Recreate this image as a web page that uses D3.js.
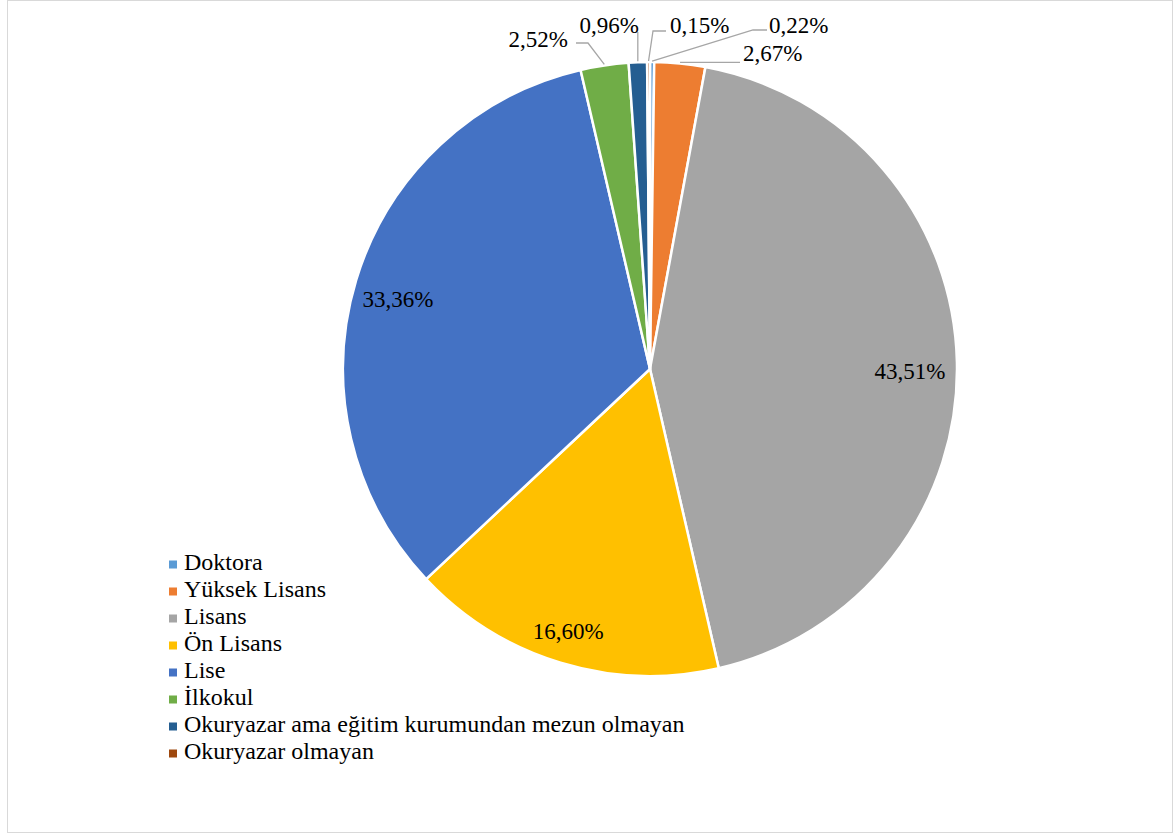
<!DOCTYPE html>
<html>
<head>
<meta charset="utf-8">
<script src="https://cdn.jsdelivr.net/npm/d3@7"></script>
<style>
  html, body { margin: 0; padding: 0; background: #fff; }
  svg { display: block; }
</style>
</head>
<body>
<svg id="chart" width="1174" height="834"></svg>
<script>
// Education level distribution
const categories = [
  "Doktora",
  "Yüksek Lisans",
  "Lisans",
  "Ön Lisans",
  "Lise",
  "İlkokul",
  "Okuryazar ama eğitim kurumundan mezun olmayan",
  "Okuryazar olmayan"
];
const shares = [0.22, 2.67, 43.51, 16.60, 33.36, 2.52, 0.96, 0.15];
const colors = ["#5B9BD5", "#ED7D31", "#A5A5A5", "#FFC000", "#4472C4", "#70AD47", "#255E91", "#9E480E"];

const FONT = '"Liberation Serif"';
const LABEL_SIZE = 23, LEGEND_SIZE = 24;
const cx = 650, cy = 369, R = 307;

const svg = d3.select("#chart");

// chart frame
svg.append("rect")
  .attr("x", 7.5).attr("y", 0.5)
  .attr("width", 1165).attr("height", 832)
  .attr("fill", "none").attr("stroke", "#D9D9D9").attr("stroke-width", 1);

const fmt = v => v.toFixed(2).replace(".", ",") + "%";

const pie = d3.pie().sort(null).value(d => d)(shares);
const arc = d3.arc().innerRadius(0).outerRadius(R);
const g = svg.append("g").attr("transform", `translate(${cx},${cy})`);

g.selectAll("path.slice")
  .data(pie)
  .join("path")
  .attr("class", "slice")
  .attr("d", arc)
  .attr("fill", (d, i) => colors[i])
  .attr("stroke", "#fff")
  .attr("stroke-width", 2.5)
  .attr("stroke-linejoin", "round");

// point on a circle of radius r at angle a
const polar = (a, r) => [r * Math.sin(a), -r * Math.cos(a)];
const midAngle = d => (d.startAngle + d.endAngle) / 2;
const deg = Math.PI / 180;

// labels inside large slices: radial factor and small angular nudge (degrees)
const inside = { 2: [0.847, 1.8], 3: [0.894, 0.4], 4: [0.852, -1.35] };
Object.entries(inside).forEach(([i, [f, nudge]]) => {
  const d = pie[+i];
  const [x, y] = polar(midAngle(d) + nudge * deg, R * f);
  g.append("text")
    .attr("x", x).attr("y", y + 8)
    .attr("text-anchor", "middle")
    .attr("font-size", LABEL_SIZE)
    .style("font-family", FONT)
    .text(fmt(shares[+i]));
});

// labels outside small slices, with leader lines (offsets relative to the pie centre)
const outside = [
  { i: 0, elbow: [103, -339], end: [117, -339], tx: 119, ty: -336, anchor: "start" },
  { i: 1, elbow: null,        end: [90, -308],  tx: 93,  ty: -308, anchor: "start" },
  { i: 5, elbow: [-62, -326], end: [-74, -326], tx: -82, ty: -322, anchor: "end" },
  { i: 6, elbow: null,        end: [-12, -337], tx: -11, ty: -336, anchor: "end" },
  { i: 7, elbow: [3, -338],   end: [16, -338],  tx: 20,  ty: -336, anchor: "start" }
];

outside.forEach(o => {
  const d = pie[o.i];
  const start = polar(midAngle(d), R + 1);
  const pts = [start];
  if (o.elbow) pts.push(o.elbow);
  if (o.i === 6) pts.push([start[0], o.end[1]]);
  else if (o.i === 1) pts.push([o.end[0], start[1]]);
  else pts.push(o.end);
  g.append("path")
    .attr("d", d3.line()(pts))
    .attr("fill", "none")
    .attr("stroke", "#A6A6A6")
    .attr("stroke-width", 1.3);
  g.append("text")
    .attr("x", o.tx).attr("y", o.ty)
    .attr("text-anchor", o.anchor)
    .attr("font-size", LABEL_SIZE)
    .style("font-family", FONT)
    .text(fmt(shares[o.i]));
});

// legend
const legend = svg.append("g").attr("transform", "translate(169,564.5)");
const item = legend.selectAll("g")
  .data(categories)
  .join("g")
  .attr("transform", (d, i) => `translate(0,${i * 27})`);
item.append("rect")
  .attr("x", 0).attr("y", -4)
  .attr("width", 8).attr("height", 8)
  .attr("fill", (d, i) => colors[i]);
item.append("text")
  .attr("x", 15).attr("y", 5.5)
  .attr("font-size", LEGEND_SIZE)
  .style("font-family", FONT)
  .text(d => d);
</script>
</body>
</html>
